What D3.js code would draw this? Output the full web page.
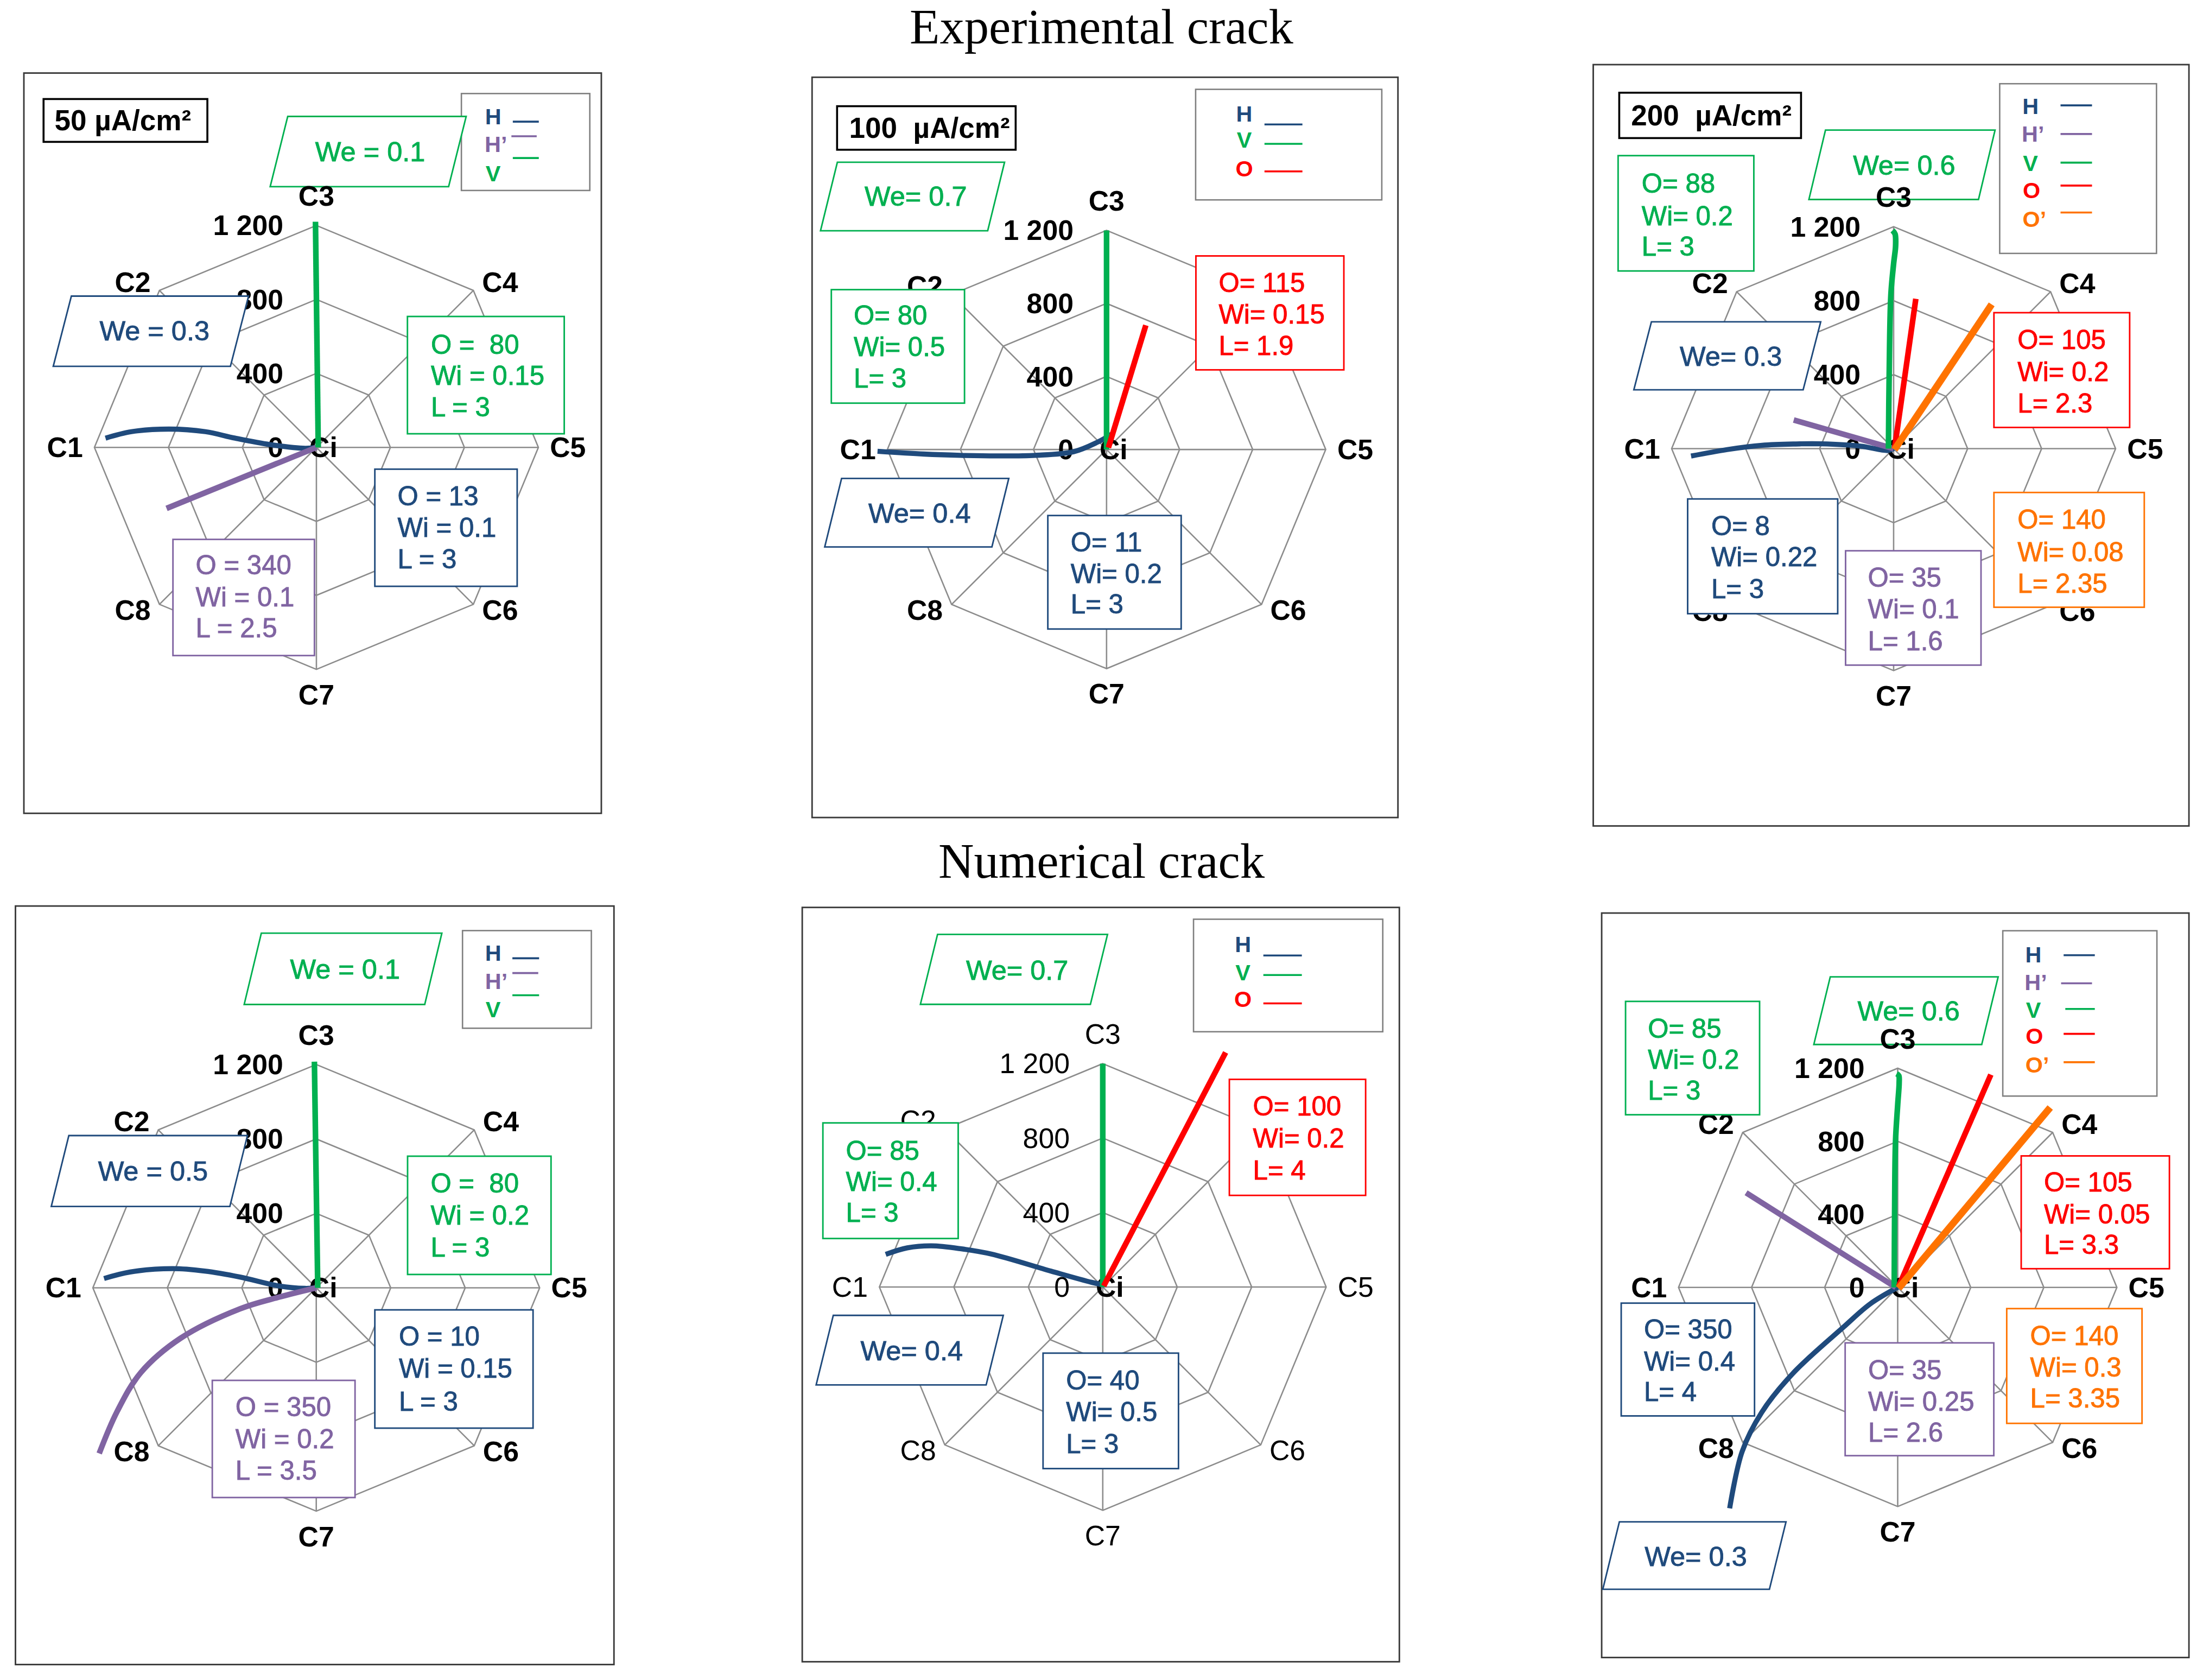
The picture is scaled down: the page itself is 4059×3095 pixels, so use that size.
<!DOCTYPE html>
<html><head><meta charset="utf-8">
<script src="https://cdn.jsdelivr.net/npm/d3@7"></script>
<style>body{margin:0;background:#fff}svg{display:block}text{white-space:pre}</style>
</head><body>
<svg id="c" width="4059" height="3095"></svg>
<script>
// ---------------- DATA ----------------
const axisNames = ["C1","C2","C3","C4","C5","C6","C7","C8"];
const axisAngles = [180,135,90,45,0,-45,-90,-135];
const tickValues = [0,400,800,1200];
const tickLabels = ["0","400","800","1 200"];
const sectionTitles = ["Experimental crack","Numerical crack"];
const densities = ["50 µA/cm²","100  µA/cm²","200  µA/cm²"];
const seriesKeys = ["H","Hp","V","O","Op"];
const seriesNames = ["H","H’","V","O","O’"];

// crack paths, [x, y] in radar units (outer ring = 1200), y upward
const exp50_V  = [[10,0],[-5,1220]];
const exp50_H  = [[-1140,50],[-1000,85],[-797,99],[-600,85],[-440,50],[-250,15],[-60,-5],[0,0]];
const exp50_Hp = [[0,0],[-810,-330]];

const exp100_V = [[0,0],[0,1200]];
const exp100_O = [[10,10],[215,680]];
const exp100_H = [[-1254,-10],[-1000,-25],[-800,-32],[-600,-35],[-390,-32],[-180,-12],[-50,40],[30,85]];

const exp200_V  = [[-28,0],[-24,400],[-15,830],[0,1000],[11,1100],[8,1160],[-6,1180]];
const exp200_O  = [[5,0],[120,810]];
const exp200_Op = [[5,-5],[530,780]];
const exp200_Hp = [[0,0],[-540,155]];
const exp200_H  = [[-1095,-40],[-900,-5],[-712,18],[-500,26],[-393,26],[-181,14],[-30,-10],[0,0]];

const num50_V  = [[8,0],[-10,1215]];
const num50_H  = [[-1140,50],[-1000,85],[-772,103],[-600,90],[-410,58],[-200,10],[-60,-3],[0,0]];
const num50_Hp = [[0,0],[-200,-50],[-410,-113],[-729,-271],[-942,-455],[-1070,-665],[-1166,-890]];

const num100_V = [[0,0],[0,1200]];
const num100_O = [[5,5],[660,1260]];
const num100_H = [[-1166,175],[-1050,210],[-920,221],[-760,205],[-599,177],[-278,85],[-60,25],[10,10]];

const num200_V  = [[-19,0],[-17,400],[-12,800],[0,1000],[8,1120],[6,1160],[-6,1170]];
const num200_O  = [[5,5],[510,1165]];
const num200_Op = [[5,-5],[835,985]];
const num200_Hp = [[-10,0],[-830,518]];
const num200_H  = [[0,0],[-150,-90],[-294,-215],[-573,-470],[-745,-685],[-852,-900],[-920,-1210]];

// annotation texts
const exp50_notes  = [["We = 0.1"],["We = 0.3"],["O =  80","Wi = 0.15","L = 3"],["O = 13","Wi = 0.1","L = 3"],["O = 340","Wi = 0.1","L = 2.5"]];
const exp100_notes = [["We= 0.7"],["O= 80","Wi= 0.5","L= 3"],["O= 115","Wi= 0.15","L= 1.9"],["We= 0.4"],["O= 11","Wi= 0.2","L= 3"]];
const exp200_notes = [["We= 0.6"],["O= 88","Wi= 0.2","L= 3"],["We= 0.3"],["O= 105","Wi= 0.2","L= 2.3"],["O= 8","Wi= 0.22","L= 3"],["O= 140","Wi= 0.08","L= 2.35"],["O= 35","Wi= 0.1","L= 1.6"]];
const num50_notes  = [["We = 0.1"],["We = 0.5"],["O =  80","Wi = 0.2","L = 3"],["O = 10","Wi = 0.15","L = 3"],["O = 350","Wi = 0.2","L = 3.5"]];
const num100_notes = [["We= 0.7"],["O= 85","Wi= 0.4","L= 3"],["O= 100","Wi= 0.2","L= 4"],["We= 0.4"],["O= 40","Wi= 0.5","L= 3"]];
const num200_notes = [["We= 0.6"],["O= 85","Wi= 0.2","L= 3"],["O= 105","Wi= 0.05","L= 3.3"],["O= 350","Wi= 0.4","L= 4"],["O= 35","Wi= 0.25","L= 2.6"],["O= 140","Wi= 0.3","L= 3.35"],["We= 0.3"]];

// ---------------- STYLE / LAYOUT ----------------
const colors = {H:"#1F4A7C", Hp:"#8064A2", V:"#00B050", O:"#FF0000", Op:"#FF7300"};
const widths = {H:3.6, Hp:4, V:4, O:4, Op:5};
const nameOf = k => seriesNames[seriesKeys.indexOf(k)];
const labelsOnTop = ["C3"];
const NOTE_FS = 19;

const panels = [
 {frame:[17,52,428,579], c:[225.2,318.5], R:158, bold:true,
  dens:{rect:[31,70.5,147.6,101], tx:38.8, text:densities[0]},
  legend:{rect:[328.4,66.6,419.8,135.6], keys:["H","Hp","V"], tx:[351,353,351], ty:[83,102.8,123.5], lx:[[365,383.5],[364,382],[365,383.5]], ly:[86.6,97,112.5]},
  paths:[["H",exp50_H],["Hp",exp50_Hp],["V",exp50_V]],
  texts:exp50_notes,
  notes:[
   {k:"p",s:"V",box:[192.3,82.9,331.8,132.9],sk:12.5,cx:263.5,cy:108},
   {k:"p",s:"H",box:[37.9,210.8,176.9,260.8],sk:12.9,cx:110,cy:235.6},
   {k:"r",s:"V",box:[290,225.3,401.6,308.8],tx:306.7,ty:[245,267.4,289.8]},
   {k:"r",s:"H",box:[266.8,334,368.1,417.4],tx:283,ty:[352.9,375.3,397.7]},
   {k:"r",s:"Hp",box:[123.1,384,223.8,466.7],tx:139.3,ty:[401.9,424.7,447]}]},
 {frame:[578,55,995,582], c:[787.6,320], R:156, bold:true,
  dens:{rect:[595.8,75.6,722.9,106.6], tx:604.4, text:densities[1]},
  legend:{rect:[851,63.6,983.5,142.3], keys:["H","V","O"], tx:[885.6,885.6,885.6], ty:[81,99.7,120.3], lx:[[900,927],[900,927],[900,927]], ly:[88.6,102.4,122]},
  paths:[["H",exp100_H],["V",exp100_V],["O",exp100_O]],
  texts:exp100_notes,
  notes:[
   {k:"p",s:"V",box:[584,115.5,715,164.3],sk:12,cx:651.8,cy:139.6},
   {k:"r",s:"V",box:[591.7,206.2,686.5,287],tx:607.7,ty:[224.4,246.8,269.1]},
   {k:"r",s:"O",box:[851.2,182.2,956.5,263.3],tx:867.4,ty:[201,223.4,245.8]},
   {k:"p",s:"H",box:[587,340.6,718,389.4],sk:12,cx:654.5,cy:365.4},
   {k:"r",s:"H",box:[745.8,367,840.7,447.8],tx:762.1,ty:[386,408.3,430]}]},
 {frame:[1134,46,1558,588], c:[1347.8,319.4], R:158, bold:true,
  dens:{rect:[1152.5,66,1281.9,98.3], tx:1160.9, text:densities[2]},
  legend:{rect:[1423.3,59.6,1534.9,180.4], keys:["H","Hp","V","O","Op"], tx:[1445.2,1447,1445.2,1446,1448], ty:[75.7,95.4,116.2,135.5,156.3], lx:[[1466.6,1489],[1466.6,1489],[1466.6,1489],[1466.6,1489],[1466.6,1489]], ly:[75,95.4,115.8,132.1,151.3]},
  paths:[["H",exp200_H],["Hp",exp200_Hp],["V",exp200_V],["O",exp200_O],["Op",exp200_Op]],
  texts:exp200_notes,
  notes:[
   {k:"p",s:"V",box:[1287.5,92.6,1420,142],sk:11.8,cx:1355.3,cy:117.6},
   {k:"r",s:"V",box:[1151.7,110.8,1248.3,192.9],tx:1168.5,ty:[130.5,153.5,175.3]},
   {k:"p",s:"H",box:[1162.9,229.1,1295.9,277.5],sk:12.5,cx:1232,cy:253.8},
   {k:"r",s:"O",box:[1419.2,222.6,1515.8,304.3],tx:1436,ty:[241.6,264.6,287.1]},
   {k:"r",s:"H",box:[1201.2,355.2,1308,436.9],tx:1218,ty:[374.2,396.4,419]},
   {k:"r",s:"Op",box:[1419.2,350.6,1526.2,432.3],tx:1436,ty:[369.6,392.9,415.4]},
   {k:"r",s:"Hp",box:[1313.6,392.1,1410,473.5],tx:1329.5,ty:[410.8,433.3,456.3]}]},
 {frame:[11,645,437,1185], c:[225.1,916.8], R:159, bold:true,
  legend:{rect:[329.2,662.5,420.9,732], keys:["H","Hp","V"], tx:[351,353.3,351], ty:[678.6,698.6,718.6], lx:[[364.7,383.7],[364.7,383.1],[364.7,383.7]], ly:[682.2,692.7,708.5]},
  paths:[["H",num50_H],["Hp",num50_Hp],["V",num50_V]],
  texts:num50_notes,
  notes:[
   {k:"p",s:"V",box:[173.8,664.3,314.5,715.1],sk:12.2,cx:245.6,cy:689.9},
   {k:"p",s:"H",box:[36.5,808.4,176.1,858.9],sk:12.5,cx:108.9,cy:833.7},
   {k:"r",s:"V",box:[290.1,823.1,392.2,907.3],tx:306.5,ty:[842.4,865.2,888]},
   {k:"r",s:"H",box:[266.8,932.5,379.4,1016.7],tx:283.9,ty:[951.1,973.9,997.4]},
   {k:"r",s:"Hp",box:[151.1,982.7,252.7,1066.1],tx:167.6,ty:[1001.3,1024.1,1046.5]}]},
 {frame:[571,646,996,1183], c:[784.9,916.2], R:159, bold:false,
  legend:{rect:[849.5,654.4,984.2,734.5], keys:["H","V","O"], tx:[884.7,884.7,884.7], ty:[672.5,692.4,711.5], lx:[[899.2,926.6],[899.2,926.6],[899.2,926.6]], ly:[680.2,694.1,714.3]},
  paths:[["H",num100_H],["V",num100_V],["O",num100_O]],
  texts:num100_notes,
  notes:[
   {k:"p",s:"V",box:[655.1,665.2,788.3,715],sk:12.2,cx:724,cy:690.6},
   {k:"r",s:"V",box:[585.7,799.4,682,881.7],tx:602.1,ty:[818.9,841.2,863.2]},
   {k:"r",s:"O",box:[875,768.4,972,851],tx:891.8,ty:[787.5,810.2,832.9]},
   {k:"p",s:"H",box:[580.9,936.4,714.1,985.9],sk:12.2,cx:648.9,cy:961.5},
   {k:"r",s:"H",box:[742.4,963.3,838.8,1045.5],tx:758.8,ty:[982.4,1005.1,1027.8]}]},
 {frame:[1140,650,1558,1180], c:[1350.7,916.5], R:156, bold:true,
  legend:{rect:[1425.5,662.6,1535.2,780.3], keys:["H","Hp","V","O","Op"], tx:[1447.3,1449,1447.3,1448,1450], ty:[679.7,699.3,719.2,737.7,758.3], lx:[[1468.8,1491],[1467,1489],[1470,1491],[1468.8,1491],[1468.8,1491]], ly:[680,700,718.3,736,756.2]},
  paths:[["H",num200_H],["Hp",num200_Hp],["V",num200_V],["O",num200_O],["Op",num200_Op]],
  texts:num200_notes,
  notes:[
   {k:"p",s:"V",box:[1291,695.4,1422.2,743.6],sk:11.7,cx:1358.5,cy:719.9},
   {k:"r",s:"V",box:[1157,712.9,1252.4,793.6],tx:1172.9,ty:[732.1,754.1,776.1]},
   {k:"r",s:"O",box:[1438.6,822.9,1544.1,903.2],tx:1454.8,ty:[841.4,864.1,885.8]},
   {k:"r",s:"H",box:[1153.9,927.7,1248.8,1008],tx:1170.1,ty:[946.2,968.9,990.6]},
   {k:"r",s:"Hp",box:[1313.3,956,1419.1,1036.3],tx:1329.7,ty:[975.2,997.5,1019.6]},
   {k:"r",s:"Op",box:[1428.3,931.6,1524.6,1013.3],tx:1445,ty:[950.8,973.1,995.1]},
   {k:"p",s:"H",box:[1140.8,1083.4,1271.2,1131.4],sk:11.8,cx:1207,cy:1107.9}]}
];

// ---------------- DRAW ----------------
const svg = d3.select("#c");
svg.append("rect").attr("width",4059).attr("height",3095).attr("fill","#fff");
const root = svg.append("g").attr("transform",`scale(${4059/1568},${3095/1196})`);

const SANS = "'Liberation Sans', Arial, sans-serif";
root.selectAll("text.title").data(sectionTitles).join("text")
  .attr("x",784).attr("y",(d,i)=>[31,625][i])
  .attr("text-anchor","middle")
  .attr("font-family","'Liberation Serif','Times New Roman',serif")
  .attr("font-size",35).attr("fill","#000").text(d=>d);

const rad = d => d*Math.PI/180;

panels.forEach(p => {
  const g = root.append("g");
  const [cx,cy] = p.c, R = p.R;
  const x = d3.scaleLinear().domain([-1200,1200]).range([cx-R,cx+R]);
  const y = d3.scaleLinear().domain([-1200,1200]).range([cy+R,cy-R]);
  const ang = d3.scaleOrdinal().domain(axisNames).range(axisAngles);
  const pt = (name,v) => [x(v*Math.cos(rad(ang(name)))), y(v*Math.sin(rad(ang(name))))];

  const f = p.frame;
  g.append("rect").attr("x",f[0]).attr("y",f[1]).attr("width",f[2]-f[0]).attr("height",f[3]-f[1])
    .attr("fill","none").attr("stroke","#3a3a3a").attr("stroke-width",1.1);

  const ring = d3.line();
  tickValues.filter(v=>v>0).forEach(v=>{
    g.append("path").attr("d", ring(axisNames.map(n=>pt(n,v))) + "Z")
      .attr("fill","none").attr("stroke","#8c8c8c").attr("stroke-width",1);
  });
  g.selectAll("line.spoke").data(axisNames).join("line")
    .attr("x1",x(0)).attr("y1",y(0))
    .attr("x2",d=>pt(d,1200)[0]).attr("y2",d=>pt(d,1200)[1])
    .attr("stroke","#8c8c8c").attr("stroke-width",1);

  const fw = p.bold ? "bold" : "normal";
  const off = {C1:[-21,0],C2:[-19,-6],C3:[0,-21],C4:[19,-6],C5:[21,0],C6:[19,4],C7:[0,18],C8:[-19,4]};
  const drawAxisLabels = (sel, names) => sel.selectAll(null).data(names).join("text")
    .attr("x",d=>pt(d,1200)[0]+off[d][0]).attr("y",d=>pt(d,1200)[1]+off[d][1])
    .attr("text-anchor","middle").attr("dominant-baseline","central")
    .attr("font-family",SANS).attr("font-weight",fw).attr("font-size",20).attr("fill","#000")
    .text(d=>d);
  drawAxisLabels(g, axisNames.filter(n=>!labelsOnTop.includes(n)));

  g.selectAll("text.tk").data(tickValues).join("text")
    .attr("x",x(0)-23.5).attr("y",d=>y(d))
    .attr("text-anchor","end").attr("dominant-baseline","central")
    .attr("font-family",SANS).attr("font-weight",fw).attr("font-size",20).attr("fill","#000")
    .text((d,i)=>tickLabels[i]);
  g.append("text").attr("x",x(0)+5).attr("y",y(0)).attr("text-anchor","middle").attr("dominant-baseline","central")
    .attr("font-family",SANS).attr("font-weight","bold").attr("font-size",20).attr("fill","#000").text("Ci");

  const line = d3.line().x(d=>x(d[0])).y(d=>y(d[1])).curve(d3.curveCatmullRom.alpha(0.5));
  p.paths.forEach(([k,data])=>{
    g.append("path").attr("d",line(data)).attr("fill","none")
      .attr("stroke",colors[k]).attr("stroke-width",widths[k]).attr("stroke-linecap","butt");
  });

  if (p.dens) {
    const r = p.dens.rect;
    g.append("rect").attr("x",r[0]).attr("y",r[1]).attr("width",r[2]-r[0]).attr("height",r[3]-r[1])
      .attr("fill","#fff").attr("stroke","#000").attr("stroke-width",1.4);
    g.append("text").attr("x",p.dens.tx).attr("y",(r[1]+r[3])/2).attr("dominant-baseline","central")
      .attr("font-family",SANS).attr("font-weight","bold").attr("font-size",20.5).attr("fill","#000").text(p.dens.text);
  }

  const L = p.legend, lr = L.rect;
  g.append("rect").attr("x",lr[0]).attr("y",lr[1]).attr("width",lr[2]-lr[0]).attr("height",lr[3]-lr[1])
    .attr("fill","#fff").attr("stroke","#7f7f7f").attr("stroke-width",1);
  L.keys.forEach((k,i)=>{
    g.append("text").attr("x",L.tx[i]).attr("y",L.ty[i]).attr("text-anchor","middle").attr("dominant-baseline","central")
      .attr("font-family",SANS).attr("font-weight","bold").attr("font-size",16).attr("fill",colors[k]).text(nameOf(k));
    g.append("line").attr("x1",L.lx[i][0]).attr("x2",L.lx[i][1]).attr("y1",L.ly[i]).attr("y2",L.ly[i])
      .attr("stroke",colors[k]).attr("stroke-width",1.4);
  });

  p.notes.forEach((n,i)=>{
    const b = n.box, col = colors[n.s], lines = p.texts[i];
    if (n.k === "p") {
      const poly = [[b[0]+n.sk,b[1]],[b[2],b[1]],[b[2]-n.sk,b[3]],[b[0],b[3]]];
      g.append("path").attr("d",d3.line()(poly)+"Z").attr("fill","#fff").attr("stroke",col).attr("stroke-width",1.1);
      g.append("text").attr("x",n.cx).attr("y",n.cy).attr("text-anchor","middle").attr("dominant-baseline","central")
        .attr("font-family",SANS).attr("font-size",NOTE_FS+0.5).attr("fill",col)
        .attr("stroke",col).attr("stroke-width",0.35).text(lines[0]);
    } else {
      g.append("rect").attr("x",b[0]).attr("y",b[1]).attr("width",b[2]-b[0]).attr("height",b[3]-b[1])
        .attr("fill","#fff").attr("stroke",col).attr("stroke-width",1.1);
      lines.forEach((t,j)=>{
        g.append("text").attr("x",n.tx).attr("y",n.ty[j]).attr("dominant-baseline","central")
          .attr("font-family",SANS).attr("font-size",NOTE_FS).attr("fill",col)
          .attr("stroke",col).attr("stroke-width",0.35).text(t);
      });
    }
  });

  drawAxisLabels(g, labelsOnTop);
});
</script>
</body></html>
